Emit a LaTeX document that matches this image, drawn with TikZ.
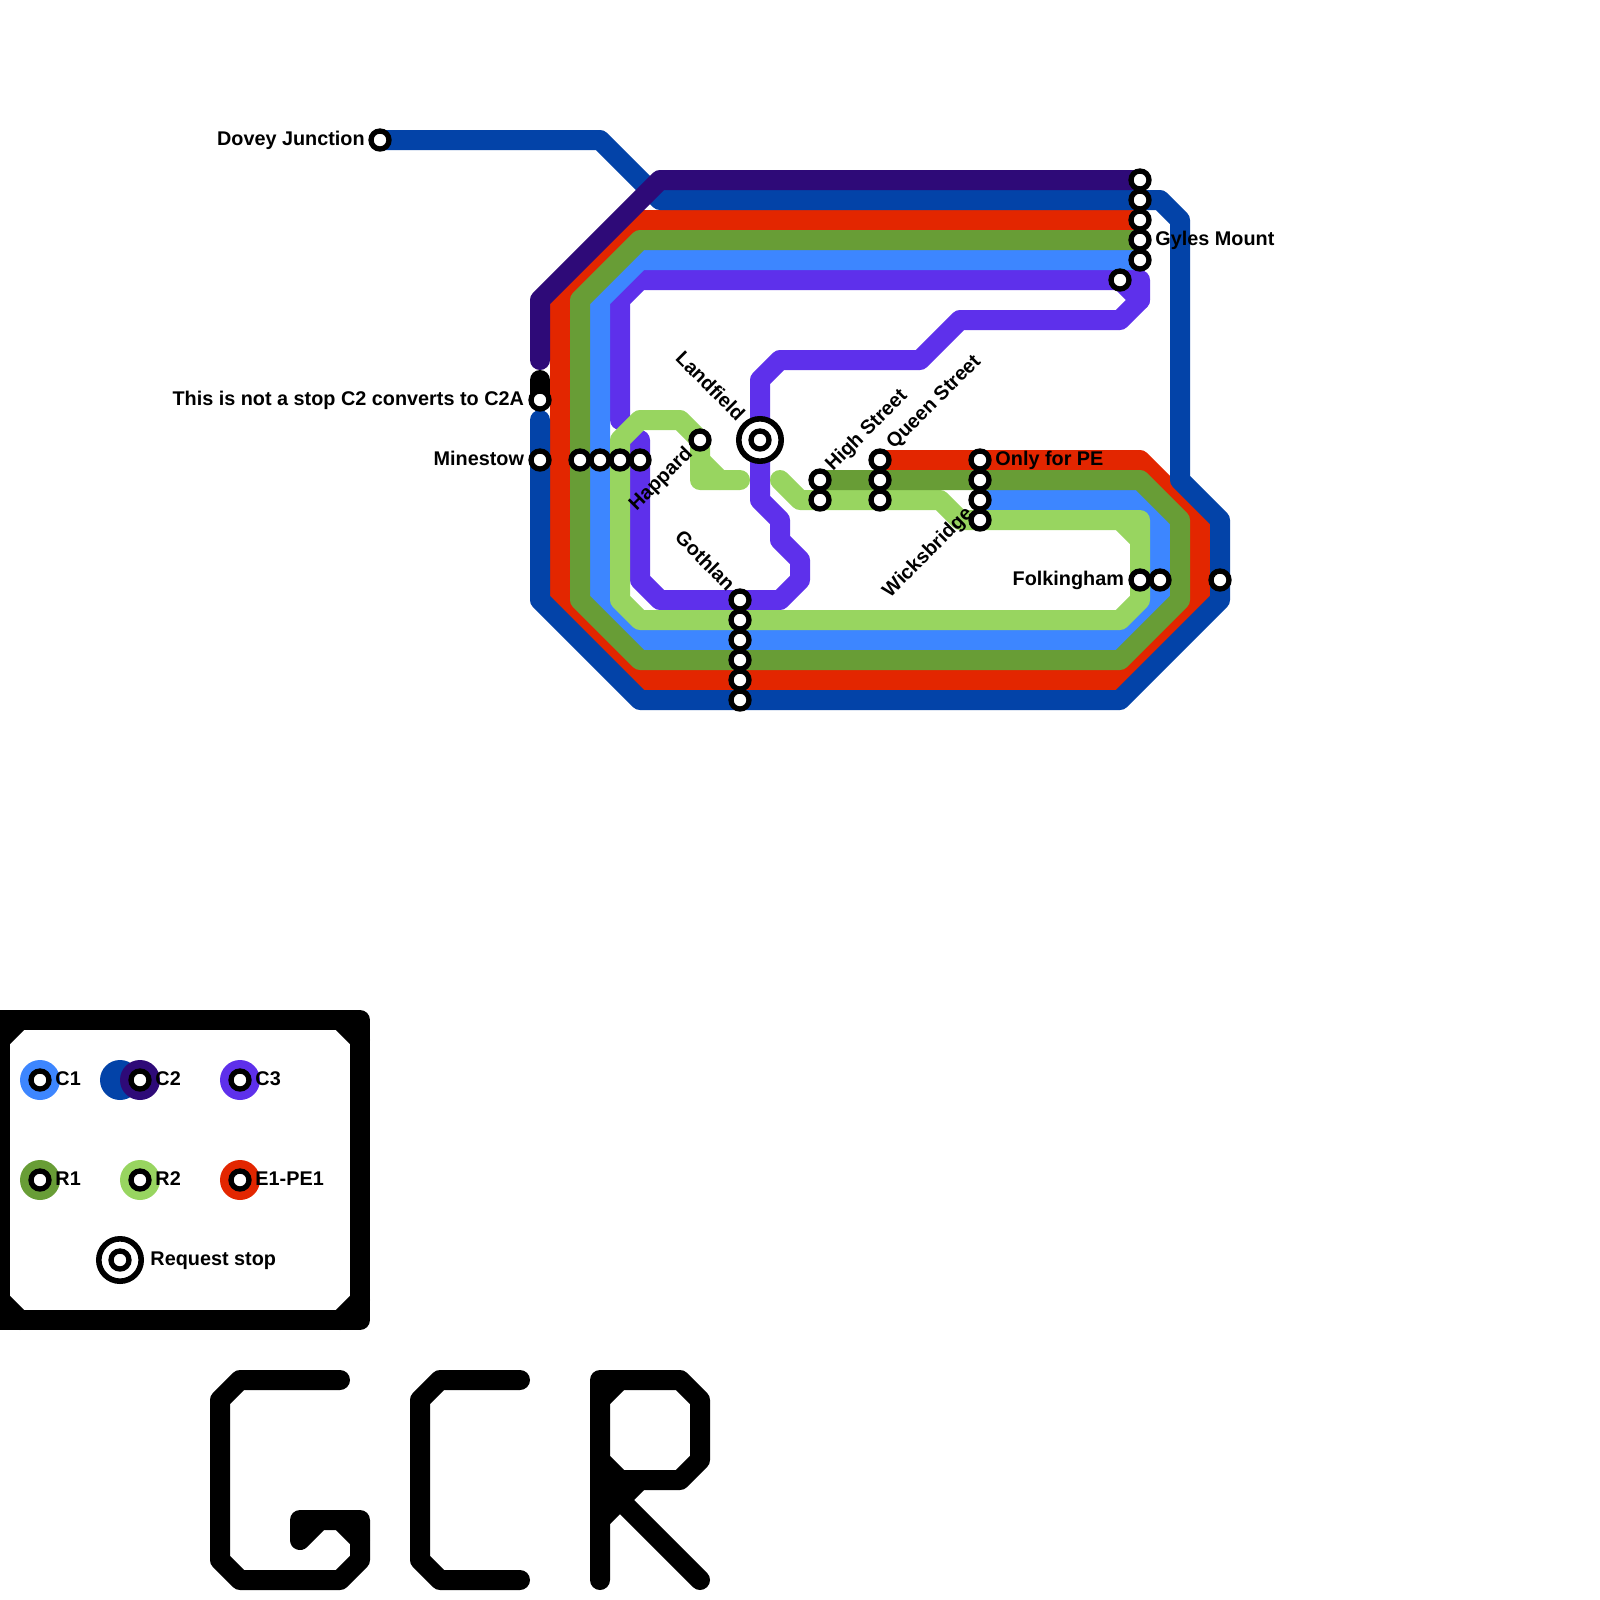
\documentclass[tikz,border=0pt]{standalone}
\usepackage{fontspec}
\setmainfont{Liberation Sans}
\usetikzlibrary{positioning}
\definecolor{lineCone}{HTML}{3D86FF}
\definecolor{lineCtwo}{HTML}{0343A8}
\definecolor{lineCtwoA}{HTML}{2E0A78}
\definecolor{lineCthree}{HTML}{5E30EB}
\definecolor{lineRone}{HTML}{689D36}
\definecolor{lineRtwo}{HTML}{98D560}
\definecolor{lineEone}{HTML}{E32600}
\tikzset{track/.style={line width=.5cm,line cap=round,line join=round}}
\tikzset{stop/.style={circle,draw=black,fill=white,line width=.1325cm,minimum size=.45cm,inner sep=0pt,outer sep=0pt}}
\tikzset{reqstop/.style={circle,draw=black,fill=white,line width=.14cm,minimum size=1.06cm,inner sep=0pt,outer sep=0pt}}
\tikzset{lbl/.style={font=\fontsize{14.1}{16}\selectfont\bfseries,inner sep=0pt}}
\tikzset{lblh/.style={lbl,yshift=-.125cm}}
\tikzset{blob/.style={circle,minimum size=1cm,inner sep=0pt}}
\begin{document}
\begin{tikzpicture}[x=.5cm,y=-.5cm]
\useasboundingbox (0,0) rectangle (80,80);
% C3
\draw[track,lineCthree] (31,21) -- (31,15) -- (32,14) -- (57,14) -- (57,15) -- (56,16) -- (48,16) -- (46,18) -- (39,18) -- (38,19) -- (38,25) -- (39,26) -- (39,27) -- (40,28) -- (40,29) -- (39,30) -- (33,30) -- (32,29) -- (32,22);
\draw[track,lineCthree] (56,14) -- (57,15);
% C1
\draw[track,lineCone] (57,13) -- (32,13) -- (30,15) -- (30,30) -- (32,32) -- (56,32) -- (58,30) -- (58,26) -- (57,25) -- (49,25);
% R2
\draw[track,lineRtwo] (49,26) -- (57,26) -- (57,30) -- (56,31) -- (32,31) -- (31,30) -- (31,22) -- (32,21) -- (34,21) -- (35,22) -- (35,24) -- (37,24);
\draw[track,lineRtwo] (56,26) -- (57,27);
\draw[track,lineRtwo] (35,23) -- (36,24);
\draw[track,lineRtwo] (39,24) -- (40,25) -- (47,25) -- (48,26) -- (49,26);
% E1-PE1
\draw[track,lineEone] (57,11) -- (32,11) -- (28,15) -- (28,30) -- (32,34) -- (56,34) -- (60,30) -- (60,26) -- (57,23) -- (44,23);
% R1
\draw[track,lineRone] (57,12) -- (32,12) -- (29,15) -- (29,30) -- (32,33) -- (56,33) -- (59,30) -- (59,26) -- (57,24) -- (41,24);
% C2
\draw[track,lineCtwo] (19,7) -- (30,7) -- (33,10) -- (58,10) -- (59,11) -- (59,24) -- (61,26) -- (61,30) -- (56,35) -- (32,35) -- (27,30) -- (27,21);
\draw[track,lineCtwoA] (57,9) -- (33,9) -- (27,15) -- (27,18);
\draw[track,black] (27,19) -- (27,20);
% stops
\node[stop] (dovey) at (19,7) {};
\foreach \y in {9,10,11,12,13} \node[stop] (gyles\y) at (57,\y) {};
\node[stop] (gyles14) at (56,14) {};
\node[stop] (notstop) at (27,20) {};
\node[stop] (minestow) at (27,23) {};
\foreach \x in {29,30,31,32} \node[stop] (mine\x) at (\x,23) {};
\node[stop] (happard) at (35,22) {};
\node[reqstop] (landfield) at (38,22) {};
\node[stop] (landfieldin) at (38,22) {};
\foreach \y in {24,25} \node[stop] (high\y) at (41,\y) {};
\foreach \y in {23,24,25} \node[stop] (queen\y) at (44,\y) {};
\foreach \y in {23,24,25,26} \node[stop] (wicks\y) at (49,\y) {};
\foreach \y in {30,31,32,33,34,35} \node[stop] (gothlan\y) at (37,\y) {};
\node[stop] (folk) at (57,29) {};
\node[stop] (folkb) at (58,29) {};
\node[stop] (folkc) at (61,29) {};
% names
\node[lblh,base left=.15cm of dovey] (doveylabel) {Dovey Junction};
\node[lblh,base left=.17cm of notstop] (notlabel) {This is not a stop C2 converts to C2A};
\node[lblh,base left=.17cm of minestow] (minelabel) {Minestow};
\node[lblh,base right=.155cm of gyles12] (gyleslabel) {Gyles Mount};
\node[lblh,base right=.155cm of wicks23] (pelabel) {Only for PE};
\node[lblh,base left=.17cm of folk] (folklabel) {Folkingham};
\node[lbl,rotate=45,anchor=base west] (highlabel) at ([shift={(.65,-.4)}]high24) {High Street};
\node[lbl,rotate=45,anchor=base west] (queenlabel) at ([shift={(.7,-.5)}]queen23) {Queen Street};
\node[lbl,rotate=45,anchor=east] (happardlabel) at ([shift={(-.5,.55)}]happard) {Happard};
\node[lbl,rotate=45,anchor=east] (wickslabel) at ([shift={(-.5,-.45)}]wicks26) {Wicksbridge};
\node[lbl,rotate=-45,anchor=east] (landfieldlabel) at ([shift={(-.9,-1.15)}]landfield) {Landfield};
\node[lbl,rotate=-45,anchor=east] (gothlanlabel) at ([shift={(-.4,-.65)}]gothlan30) {Gothlan};
% key
\draw[track,black] (0,51) -- (18,51) -- (18,66) -- (0,66) -- cycle;
\draw[track,black] (17,51) -- (18,52);
\draw[track,black] (18,65) -- (17,66);
\draw[track,black] (1,66) -- (0,65);
\draw[track,black] (0,52) -- (1,51);
\node[blob,fill=lineCone] (keyCone) at (2,54) {};
\node[blob,fill=lineCtwo] (keyCtwoA) at (6,54) {};
\node[blob,fill=lineCtwoA] (keyCtwo) at (7,54) {};
\node[blob,fill=lineCthree] (keyCthree) at (12,54) {};
\node[blob,fill=lineRone] (keyRone) at (2,59) {};
\node[blob,fill=lineRtwo] (keyRtwo) at (7,59) {};
\node[blob,fill=lineEone] (keyEone) at (12,59) {};
\foreach \n in {Cone,Ctwo,Cthree,Rone,Rtwo,Eone} \node[stop] (stop\n) at (key\n) {};
\node[lblh,base right=.155cm of stopCone] (labCone) {C1};
\node[lblh,base right=.155cm of stopCtwo] (labCtwo) {C2};
\node[lblh,base right=.155cm of stopCthree] (labCthree) {C3};
\node[lblh,base right=.155cm of stopRone] (labRone) {R1};
\node[lblh,base right=.155cm of stopRtwo] (labRtwo) {R2};
\node[lblh,base right=.155cm of stopEone] (labEone) {E1-PE1};
\node[reqstop] (keyreq) at (6,63) {};
\node[stop] (keyreqin) at (6,63) {};
\node[lblh,base right=.225cm of keyreq] (labreq) {Request stop};
% letters
\draw[track,black] (17,69) -- (12,69) -- (11,70) -- (11,78) -- (12,79) -- (17,79) -- (18,78) -- (18,76) -- (15,76) -- (15,77) -- (16,76);
\draw[track,black] (17,76) -- (18,77);
\draw[track,black] (26,69) -- (22,69) -- (21,70) -- (21,78) -- (22,79) -- (26,79);
\draw[track,black] (30,79) -- (30,69) -- (34,69) -- (35,70) -- (35,73) -- (34,74) -- (31,74) -- (30,73);
\draw[track,black] (30,70) -- (31,69);
\draw[track,black] (30,76) -- (32,74);
\draw[track,black] (30,74) -- (35,79);
\end{tikzpicture}
\end{document}
